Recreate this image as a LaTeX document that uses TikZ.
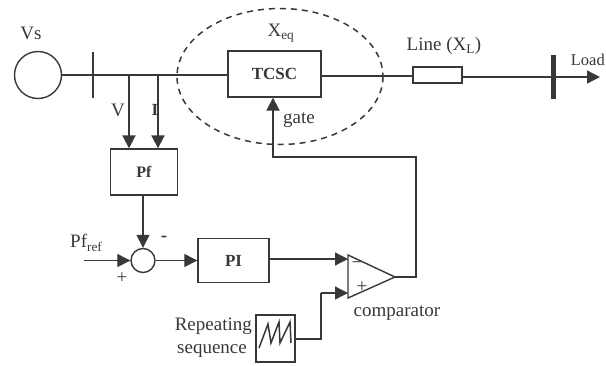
\documentclass[tikz,border=0pt]{standalone}
\usepackage{fontspec}
\setmainfont{Liberation Serif}
\usetikzlibrary{arrows.meta}
\definecolor{ink}{gray}{0.22}
\tikzset{
  wire/.style={draw=ink,line width=1.3pt},
  thick wire/.style={draw=ink,line width=2pt},
  tip/.style={-{Triangle[length=13pt,width=13pt]}},
  blockbox/.style={draw=ink,line width=1.4pt,fill=white,minimum width=#1,inner sep=0pt},
  lbl/.style={text=ink,font=\fontsize{19}{21}\selectfont,inner sep=0pt},
  bus/.style={draw=ink,line cap=butt}
}
\begin{document}
\begin{tikzpicture}[x=1pt,y=-1pt]
\useasboundingbox (0,0) rectangle (606,365);
% connection points
\coordinate (vt) at (129,75);
\coordinate (it) at (158,75);
\coordinate (gcorner) at (273,157);
\coordinate (ccorner) at (416,157);
\coordinate (cout) at (416,277);
\coordinate (pfin) at (84,260.5);
\coordinate (loadend) at (600,77);
\coordinate (lbus) at (553,77);
\coordinate (lrow) at (380,76);
\coordinate (mid1) at (321,339);
\coordinate (mid2) at (321,293);
\coordinate (cplus) at (348,293);
\coordinate (cminus) at (348,259);
\coordinate (ctip) at (395,277);
% dashed ellipse
\draw[draw=ink,line width=1.5pt,dash pattern=on 6pt off 5pt] (280,76.5) ellipse [x radius=103,y radius=68];
% nodes
\node[circle,draw=ink,line width=1.4pt,minimum size=47pt,inner sep=0pt] (src) at (38,75) {};
\node[blockbox=93pt,minimum height=46pt,lbl,font=\fontsize{17}{19}\selectfont\bfseries] (tcsc) at (274.5,74) {TCSC};
\node[blockbox=49pt,minimum height=16pt] (line) at (437.5,75) {};
\node[blockbox=67pt,minimum height=46pt,lbl,font=\fontsize{16}{18}\selectfont\bfseries] (pf) at (144,172) {Pf};
\node[circle,draw=ink,line width=1.4pt,minimum size=24pt,inner sep=0pt] (sum) at (143,260.5) {};
\node[blockbox=71pt,minimum height=44pt,lbl,font=\fontsize{17}{19}\selectfont\bfseries] (pi) at (233.5,260.5) {PI};
\node[blockbox=39pt,minimum height=47pt] (seq) at (275.5,338.5) {};
% buses
\draw[bus,line width=2.5pt] (93,52) -- (93,98);
\draw[bus,line width=5pt] (553,55) -- (553,99);
% main line
\draw[wire] (src.east) -- (src.east -| tcsc.west);
\draw[thick wire] (tcsc.east |- lrow) -- (line.west |- lrow);
\draw[wire] (line.east |- lbus) -- (lbus);
\draw[wire,tip] (lbus) -- (loadend);
% measurements
\draw[thick wire,tip] (vt) -- (vt |- pf.north);
\draw[thick wire,tip] (it) -- (it |- pf.north);
% control path
\draw[wire,tip] (pf.south -| sum.north) -- (sum.north);
\draw[wire,tip] (pfin) -- (sum.west);
\draw[wire,tip] (sum.east) -- (pi.west);
\draw[wire,tip] (pi.east |- cminus) -- (cminus);
\draw[wire] (seq.east |- mid1) -- (mid1) -- (mid2);
\draw[wire,tip] (mid2) -- (cplus);
% comparator
\draw[draw=ink,line width=1.4pt,fill=white] (348,255) -- (ctip) -- (348,298) -- cycle;
\node[lbl,font=\fontsize{19}{21}\selectfont] (cm) at (357,265) {−};
\node[lbl,font=\fontsize{19}{21}\selectfont] (cp) at (362,287) {+};
\draw[thick wire,tip] (ctip) -- (cout) -- (ccorner) -- (gcorner) -- (gcorner |- tcsc.south);
% sawtooth
\draw[draw=ink,line width=1.5pt] (259,348) -- (268,324) -- (271,343) -- (279,322) -- (280,343) -- (290,322) -- (291,343);
% labels
\node[lbl] (vs) at (31,33) {Vs};
\node[lbl] (xeq) at (281,33) {X\textsubscript{eq}};
\node[lbl] (linel) at (444,46) {Line (X\textsubscript{L})};
\node[lbl,anchor=east,font=\fontsize{16.5}{18}\selectfont] (load) at (605,60) {Load};
\node[lbl] (vl) at (118,110) {V};
\node[lbl,font=\fontsize{17}{19}\selectfont\bfseries] (il) at (155,110) {I};
\node[lbl] (gate) at (299,120) {gate};
\node[lbl,anchor=west] (pfr) at (70,243) {Pf\textsubscript{ref}};
\node[lbl,font=\fontsize{19}{21}\selectfont\bfseries] (minus) at (164,239) {-};
\node[lbl] (plus) at (122,278) {+};
\node[lbl,anchor=east] (rep) at (252,326) {Repeating};
\node[lbl,anchor=east] (seqt) at (247,351) {sequence};
\node[lbl] (comp) at (397,313) {comparator};
\end{tikzpicture}
\end{document}
